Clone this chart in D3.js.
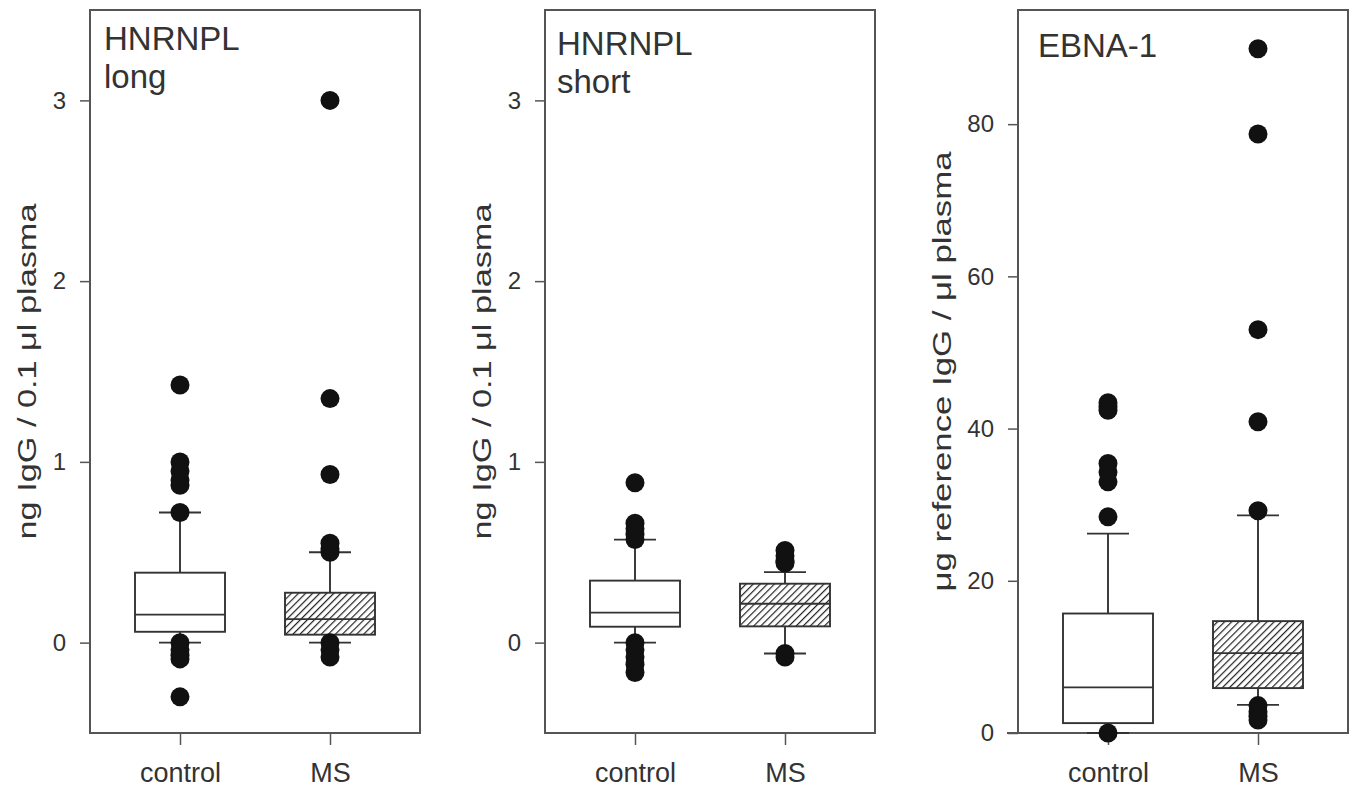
<!DOCTYPE html>
<html><head><meta charset="utf-8">
<script src="https://cdn.jsdelivr.net/npm/d3@7"></script>
<style>
body{margin:0;background:#fff}
text{font-family:"Liberation Sans",Arial,sans-serif;fill:#333}
</style>
</head><body><svg id="chart" width="1355" height="789"></svg>
<script>
// ---------- data ----------
const categories = ["control", "MS"];
const panelTitles = [["HNRNPL", "long"], ["HNRNPL", "short"], ["EBNA-1"]];
const axisTitles = ["ng IgG / 0.1 μl plasma", "ng IgG / 0.1 μl plasma", "μg reference IgG / μl plasma"];
const hnrnplTicks = [0, 1, 2, 3];
const ebnaTicks = [0, 20, 40, 60, 80];
// box stats: [whiskerLow, q1, median, q3, whiskerHigh]
const longControlBox = [0.0, 0.06, 0.155, 0.387, 0.72];
const longMSBox = [0.0, 0.044, 0.13, 0.276, 0.50];
const longControlOutliers = [1.425, 1.0, 0.95, 0.90, 0.87, 0.72, 0.0, -0.04, -0.07, -0.09, -0.30];
const longMSOutliers = [3.0, 1.35, 0.93, 0.55, 0.52, 0.50, 0.0, -0.04, -0.08];
const shortControlBox = [0.0, 0.088, 0.166, 0.343, 0.57];
const shortMSBox = [-0.06, 0.09, 0.215, 0.326, 0.39];
const shortControlOutliers = [0.885, 0.66, 0.63, 0.60, 0.57, 0.0, -0.04, -0.08, -0.12, -0.165];
const shortMSOutliers = [0.51, 0.48, 0.45, 0.44, -0.06, -0.08];
const ebnaControlBox = [0, 1.3, 6.0, 15.7, 26.2];
const ebnaMSBox = [3.7, 5.9, 10.5, 14.7, 28.6];
const ebnaControlOutliers = [43.4, 42.9, 42.4, 35.4, 34.3, 33.0, 28.4, 0];
const ebnaMSOutliers = [89.9, 78.7, 53.0, 40.9, 29.2, 3.6, 2.8, 2.2, 1.7];

// ---------- layout ----------
const plotTop = 10, plotBottom = 733, frameW = 330;
const panels = [
  {x0: 90, domain: [-0.5, 3.5], ticks: hnrnplTicks, boxes: [longControlBox, longMSBox],
   outliers: [longControlOutliers, longMSOutliers], titleX: 104, titleY: 50, lineGap: 38, axisX: 36},
  {x0: 545, domain: [-0.5, 3.5], ticks: hnrnplTicks, boxes: [shortControlBox, shortMSBox],
   outliers: [shortControlOutliers, shortMSOutliers], titleX: 557, titleY: 55, lineGap: 38, axisX: 491},
  {x0: 1018, domain: [0, 95], ticks: ebnaTicks, boxes: [ebnaControlBox, ebnaMSBox],
   outliers: [ebnaControlOutliers, ebnaMSOutliers], titleX: 1038, titleY: 57, lineGap: 38, axisX: 951, zeroAxis: true}
];

const svg = d3.select("#chart");
const defs = svg.append("defs");
const pat = defs.append("pattern").attr("id", "hatch").attr("patternUnits", "userSpaceOnUse")
  .attr("width", 5).attr("height", 5).attr("patternTransform", "rotate(45)");
pat.append("rect").attr("width", 5).attr("height", 5).attr("fill", "#fff");
pat.append("line").attr("x1", 0).attr("y1", 0).attr("x2", 0).attr("y2", 5)
  .attr("stroke", "#222").attr("stroke-width", 2.4);

const fills = ["#fff", "url(#hatch)"];
const boxW = 90, capW = 42, r = 9.5;

panels.forEach((p, i) => {
  const g = svg.append("g");
  const x = d3.scalePoint().domain(categories).range([p.x0, p.x0 + frameW]).padding(0.6);
  const y = d3.scaleLinear().domain(p.domain).range([plotBottom, plotTop]);

  // y axis
  const ya = g.append("g").attr("transform", `translate(${p.x0},0)`)
    .call(d3.axisLeft(y).tickValues(p.ticks).tickSize(10).tickPadding(14).tickFormat(d3.format("d")));
  ya.select(".domain").remove();
  ya.selectAll("line").attr("stroke", "#555").attr("stroke-width", 1.5);
  ya.selectAll("text").attr("font-size", 24).attr("fill", "#333").attr("font-family", "Liberation Sans, Arial, sans-serif");

  // x axis
  const xa = g.append("g").attr("transform", `translate(0,${plotBottom})`)
    .call(d3.axisBottom(x).tickSize(12).tickPadding(18));
  xa.select(".domain").remove();
  xa.selectAll("line").attr("stroke", "#555").attr("stroke-width", 1.5);
  xa.selectAll("text").attr("font-size", 27).attr("fill", "#333").attr("font-family", "Liberation Sans, Arial, sans-serif");

  // frame
  g.append("rect").attr("x", p.x0).attr("y", plotTop).attr("width", frameW).attr("height", plotBottom - plotTop)
    .attr("fill", "none").attr("stroke", "#555").attr("stroke-width", 2);
  if (p.zeroAxis) {
    g.append("line").attr("x1", p.x0 - 11).attr("x2", p.x0).attr("y1", y(0)).attr("y2", y(0))
      .attr("stroke", "#555").attr("stroke-width", 2);
  }

  // boxes
  categories.forEach((c, j) => {
    const b = p.boxes[j];
    const cx = x(c);
    const sc = "#333", sw = 1.9;
    g.append("line").attr("x1", cx).attr("x2", cx).attr("y1", y(b[3])).attr("y2", y(b[4])).attr("stroke", sc).attr("stroke-width", sw);
    g.append("line").attr("x1", cx).attr("x2", cx).attr("y1", y(b[1])).attr("y2", y(b[0])).attr("stroke", sc).attr("stroke-width", sw);
    [b[0], b[4]].forEach(v => g.append("line").attr("x1", cx - capW / 2).attr("x2", cx + capW / 2)
      .attr("y1", y(v)).attr("y2", y(v)).attr("stroke", sc).attr("stroke-width", sw));
    g.append("rect").attr("x", cx - boxW / 2).attr("width", boxW).attr("y", y(b[3])).attr("height", y(b[1]) - y(b[3]))
      .attr("fill", fills[j]).attr("stroke", sc).attr("stroke-width", sw);
    g.append("line").attr("x1", cx - boxW / 2).attr("x2", cx + boxW / 2).attr("y1", y(b[2])).attr("y2", y(b[2]))
      .attr("stroke", sc).attr("stroke-width", sw);
    g.selectAll(null).data(p.outliers[j]).join("circle")
      .attr("cx", cx).attr("cy", d => y(d)).attr("r", r).attr("fill", "#111");
  });

  // panel title
  const t = g.append("text").attr("x", p.titleX).attr("y", p.titleY).attr("font-size", 33).attr("fill", "#333");
  panelTitles[i].forEach((s, k) => t.append("tspan").attr("x", p.titleX).attr("y", p.titleY + k * p.lineGap).text(s));

  // axis title
  const ay = (plotTop + plotBottom) / 2;
  g.append("text").attr("transform", `translate(${p.axisX},${ay}) rotate(-90)`)
    .attr("text-anchor", "middle").attr("font-size", 25).attr("fill", "#333")
    .attr("textLength", i === 2 ? 440 : 336).attr("lengthAdjust", "spacingAndGlyphs")
    .text(axisTitles[i]);
});
</script>
</body></html>
